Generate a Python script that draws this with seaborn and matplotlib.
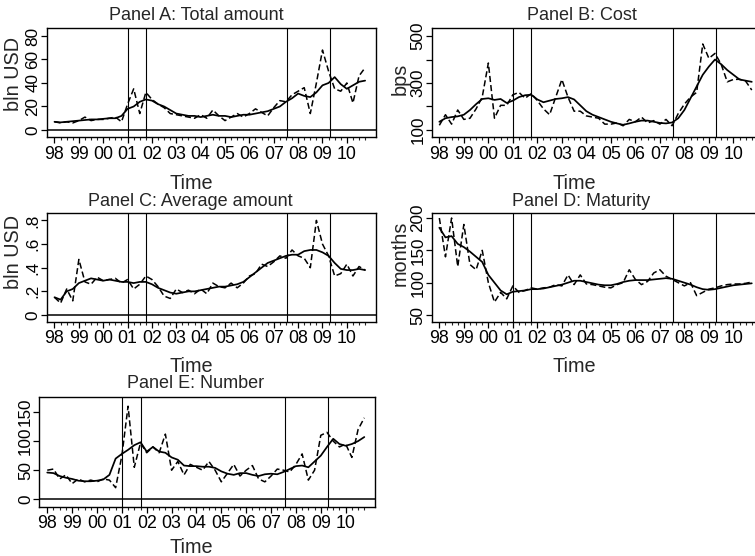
import numpy as np
import pandas as pd
import matplotlib
matplotlib.use("Agg")
import matplotlib.pyplot as plt
import seaborn as sns

# Quarterly observations, 1998Q1 - 2010Q4
years = np.repeat(np.arange(1998, 2011), 4)
quarters = np.tile([1, 2, 3, 4], 13)
time = years + (quarters - 1) / 4.0

# Panel A: total amount (bln USD)
total_raw = [7, 6, 7, 6, 8, 11, 8, 9, 9, 10, 11, 7,
             22, 35, 14, 32, 26, 22, 19, 14, 13, 12, 11, 10,
             13, 10, 17, 12, 8, 11, 14, 11, 14, 18, 15, 12,
             19, 25, 24, 30, 33, 36, 14, 40, 68, 50, 35, 33,
             40, 23, 46, 53]
total_smooth = [7, 6.5, 7, 7.5, 8, 8.5, 9, 9, 9.5, 10, 10, 12,
                18, 20, 24, 26, 25, 22, 20, 17, 14, 13, 12, 12,
                11, 12, 13, 12, 12, 11, 12, 13, 13, 14, 15, 16,
                18, 20, 24, 27, 31, 29, 28, 32, 38, 40, 45, 39,
                35, 38, 41, 42]

# Panel B: cost (bps)
cost_raw = [120, 165, 125, 185, 145, 150, 190, 240, 385, 150, 205, 205,
            250, 260, 235, 255, 225, 190, 165, 240, 315, 240, 180, 180,
            160, 155, 150, 125, 125, 130, 118, 145, 135, 155, 130, 140,
            125, 145, 118, 170, 210, 240, 260, 466, 405, 426, 380, 305,
            315, 316, 308, 270]
cost_smooth = [135, 150, 155, 158, 165, 185, 210, 232, 235, 228, 232, 215,
               225, 240, 248, 250, 230, 218, 225, 232, 235, 240, 230, 205,
               180, 165, 155, 145, 135, 128, 122, 128, 135, 140, 140, 135,
               130, 128, 132, 150, 185, 235, 285, 335, 370, 400, 380, 355,
               335, 315, 310, 305]

# Panel C: average amount (bln USD)
avg_raw = [0.15, 0.10, 0.22, 0.12, 0.47, 0.28, 0.26, 0.32, 0.29, 0.30, 0.31, 0.27,
           0.30, 0.22, 0.26, 0.33, 0.30, 0.24, 0.16, 0.14, 0.22, 0.19, 0.21, 0.18,
           0.22, 0.18, 0.27, 0.24, 0.23, 0.27, 0.23, 0.27, 0.33, 0.35, 0.43, 0.41,
           0.45, 0.50, 0.48, 0.55, 0.50, 0.48, 0.40, 0.80, 0.60, 0.50, 0.33, 0.35,
           0.43, 0.33, 0.41, 0.38]
avg_smooth = [0.15, 0.13, 0.20, 0.22, 0.27, 0.29, 0.31, 0.30, 0.29, 0.30, 0.29, 0.28,
              0.28, 0.27, 0.28, 0.28, 0.26, 0.23, 0.21, 0.19, 0.18, 0.19, 0.20, 0.20,
              0.21, 0.22, 0.23, 0.24, 0.24, 0.25, 0.26, 0.28, 0.32, 0.36, 0.40, 0.44,
              0.46, 0.48, 0.50, 0.51, 0.51, 0.54, 0.55, 0.55, 0.53, 0.50, 0.44, 0.39,
              0.38, 0.38, 0.39, 0.38]

# Panel D: maturity (months)
mat_raw = [200, 140, 200, 125, 190, 128, 120, 150, 100, 70, 85, 75,
           95, 85, 88, 92, 90, 92, 93, 97, 95, 112, 97, 112,
           98, 97, 95, 93, 92, 97, 100, 120, 105, 97, 102, 115,
           120, 110, 105, 100, 95, 100, 80, 85, 90, 92, 95, 97,
           98, 98, 99, 101]
mat_smooth = [185, 170, 172, 160, 155, 148, 140, 132, 112, 100, 88, 82,
              86, 87, 88, 90, 90, 91, 93, 95, 97, 100, 103, 103,
              101, 99, 97, 96, 96, 98, 101, 103, 104, 104, 104, 105,
              106, 107, 106, 103, 100, 97, 93, 90, 89, 90, 92, 94,
              96, 97, 98, 99]

# Panel E: number of deals
num_raw = [50, 52, 35, 42, 27, 35, 30, 33, 30, 35, 33, 20,
           75, 160, 55, 97, 80, 90, 80, 112, 50, 65, 42, 60,
           55, 50, 65, 50, 30, 45, 60, 40, 50, 58, 35, 30,
           40, 52, 50, 47, 60, 78, 33, 50, 110, 115, 100, 90,
           95, 72, 120, 140]
num_smooth = [46, 45, 40, 37, 35, 32, 31, 31, 32, 34, 42, 70,
              78, 85, 93, 98, 82, 90, 82, 80, 72, 68, 58, 57,
              57, 56, 56, 54, 48, 44, 42, 45, 45, 42, 40, 43,
              44, 43, 47, 52, 57, 58, 55, 65, 75, 90, 104, 95,
              92, 95, 100, 107]

event_dates = [2001.0, 2001.75, 2007.55, 2009.3]
year_labels = ["98", "99", "00", "01", "02", "03", "04", "05", "06", "07", "08", "09", "10"]

sns.set_theme(style="ticks")
plt.rcParams["font.family"] = ["Liberation Sans", "DejaVu Sans"]
plt.rcParams["axes.linewidth"] = 1.0
plt.rcParams["axes.edgecolor"] = "black"

W, H = 755, 556
fig = plt.figure(figsize=(W / 100, H / 100), dpi=100)
fig.patch.set_facecolor("white")

XTICK_FS = 12.8
YTICK_FS = 12.3
TITLE_FS = 13
AXTITLE_FS = 14.3
XLIM = (1997.68, 2011.18)


def make_axes(left, top, right, bottom):
    return fig.add_axes([left / W, 1 - bottom / H, (right - left) / W, (bottom - top) / H])


def draw_panel(box, raw, smooth, ylim, yticks, yticklabels, title, title_xy,
               ylabel=None, ylabel_xy=None, time_xy=None, zero_line=False):
    ax = make_axes(*box)
    df = pd.DataFrame({"time": time, "raw": raw, "smooth": smooth})
    sns.lineplot(data=df, x="time", y="raw", ax=ax, color="black",
                 linewidth=1.1, linestyle=(0, (4, 2)))
    sns.lineplot(data=df, x="time", y="smooth", ax=ax, color="black",
                 linewidth=1.25)
    for d in event_dates:
        ax.axvline(d, color="black", linewidth=0.8)
    if zero_line:
        ax.axhline(0, color="black", linewidth=1.1)
    ax.set_xlim(*XLIM)
    ax.set_ylim(*ylim)
    ax.set_xticks(np.arange(1998, 2011))
    ax.set_xticklabels(year_labels)
    ax.set_xticks(time, minor=True)
    ax.set_yticks(yticks)
    ax.set_yticklabels(yticklabels, rotation=90, va="center")
    ax.tick_params(axis="x", which="major", length=4.5, width=0.9, pad=1.5,
                   labelsize=XTICK_FS, colors="black")
    ax.tick_params(axis="x", which="minor", length=2.5, width=0.8)
    ax.tick_params(axis="y", which="major", length=4, width=0.9, pad=0.5,
                   labelsize=YTICK_FS, colors="black")
    for s in ax.spines.values():
        s.set_visible(True)
        s.set_color("black")
        s.set_linewidth(1.0)
    ax.set_xlabel("")
    ax.set_ylabel("")
    fig.text(title_xy[0] / W, 1 - title_xy[1] / H, title, ha="center",
             va="center", fontsize=TITLE_FS)
    if time_xy is not None:
        fig.text(time_xy[0] / W, 1 - time_xy[1] / H, "Time", ha="center",
                 va="center", fontsize=AXTITLE_FS)
    if ylabel is not None:
        fig.text(ylabel_xy[0] / W, 1 - ylabel_xy[1] / H, ylabel, ha="center",
                 va="center", rotation=90, fontsize=AXTITLE_FS)
    return ax


draw_panel((46.7, 28.3, 375.6, 137.3), total_raw, total_smooth,
           (-6.2, 86.5), [0, 20, 40, 60, 80], ["0", "20", "40", "60", "80"],
           "Panel A: Total amount", (196, 15.5), "bln USD", (13.5, 74),
           (191, 184), zero_line=True)

draw_panel((431.5, 28.3, 762.3, 137.3), cost_raw, cost_smooth,
           (68.9, 532.8), [100, 200, 300, 400, 500], ["100", "", "300", "", "500"],
           "Panel B: Cost", (582, 15.5), "bps", (400.5, 79),
           (574, 184))

draw_panel((46.7, 212.7, 375.6, 322), avg_raw, avg_smooth,
           (-0.059, 0.865), [0, 0.2, 0.4, 0.6, 0.8], ["0", ".2", ".4", ".6", ".8"],
           "Panel C: Average amount", (190, 201), "bln USD", (13.5, 252),
           (191, 366), zero_line=True)

draw_panel((431.5, 212.7, 762.3, 322), mat_raw, mat_smooth,
           (39.2, 208.2), [50, 100, 150, 200], ["50", "100", "150", "200"],
           "Panel D: Maturity", (581, 201), "months", (400.5, 253),
           (574, 366))

draw_panel((39.3, 396.7, 375.0, 506.7), num_raw, num_smooth,
           (-12.7, 176.3), [0, 50, 100, 150], ["0", "50", "100", "150"],
           "Panel E: Number", (196, 383.5), None, None,
           (191, 547.5), zero_line=True)

fig.savefig("out.png", dpi=100, facecolor="white")
